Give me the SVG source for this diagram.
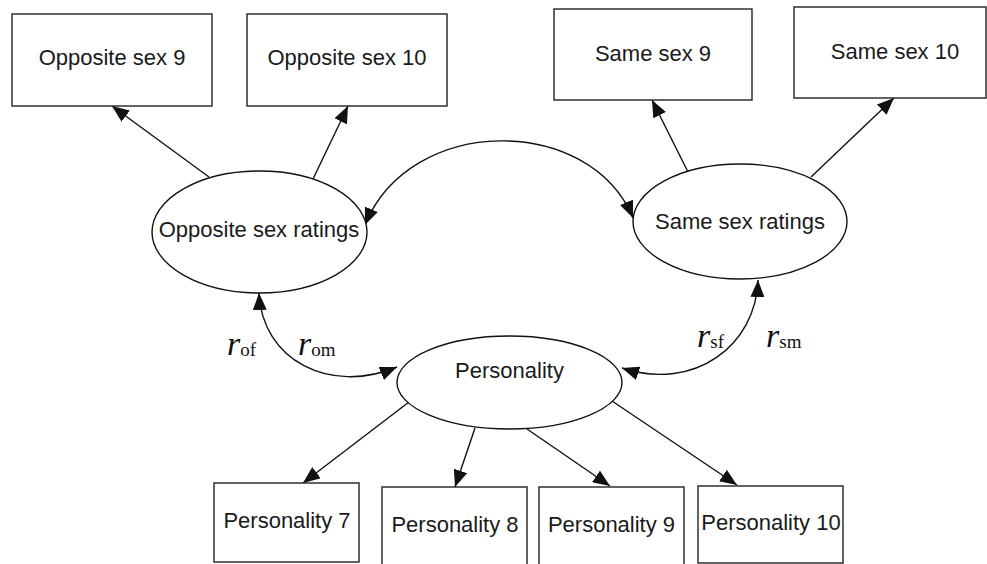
<svg xmlns="http://www.w3.org/2000/svg" width="987" height="564" viewBox="0 0 987 564">
<defs>
<marker id="ah" viewBox="0 0 17 14" refX="17" refY="7" markerWidth="17" markerHeight="14" markerUnits="userSpaceOnUse" orient="auto-start-reverse">
<path d="M0,0 L17,7 L0,14 Z" fill="#111"/>
</marker>
<style>
.box{fill:#fff;stroke:#222;stroke-width:1.4}
.ell{fill:#fff;stroke:#111;stroke-width:1.4}
.lbl{font-family:"Liberation Sans",Arial,sans-serif;font-size:22px;fill:#1a1a1a;text-anchor:middle}
.c{fill:none;stroke:#111;stroke-width:1.4}
.r{font-family:"Liberation Serif","Times New Roman",serif;font-style:italic;font-size:34px;fill:#111}
.sub{font-family:"Liberation Serif","Times New Roman",serif;font-style:normal;font-size:19px}
</style>
</defs>
<rect width="987" height="564" fill="#fff"/>
<g id="connectors">
<line class="c" x1="209" y1="177" x2="112" y2="106" marker-end="url(#ah)"/>
<line class="c" x1="313" y1="179" x2="348" y2="106" marker-end="url(#ah)"/>
<line class="c" x1="688" y1="172" x2="652" y2="100" marker-end="url(#ah)"/>
<line class="c" x1="811" y1="177" x2="894" y2="98" marker-end="url(#ah)"/>
<path class="c" d="M365,225 C410,114 590,114 633,218" marker-start="url(#ah)" marker-end="url(#ah)"/>
<path class="c" d="M259,293 C262,360 330,395 397,367" marker-start="url(#ah)" marker-end="url(#ah)"/>
<path class="c" d="M758,280 C756,345 695,392 622,368" marker-start="url(#ah)" marker-end="url(#ah)"/>
<line class="c" x1="409" y1="402" x2="303" y2="483" marker-end="url(#ah)"/>
<line class="c" x1="475" y1="428" x2="455" y2="487" marker-end="url(#ah)"/>
<line class="c" x1="527" y1="429" x2="610" y2="486" marker-end="url(#ah)"/>
<line class="c" x1="609" y1="399" x2="737" y2="485" marker-end="url(#ah)"/>
</g>
<g id="opp9"><rect class="box" x="12" y="14" width="200" height="92"/><text class="lbl" x="112" y="65">Opposite sex 9</text></g>
<g id="opp10"><rect class="box" x="247" y="14" width="200" height="92"/><text class="lbl" x="347" y="65">Opposite sex 10</text></g>
<g id="same9"><rect class="box" x="554" y="9" width="198" height="91"/><text class="lbl" x="653" y="61">Same sex 9</text></g>
<g id="same10"><rect class="box" x="794" y="7" width="192" height="91"/><text class="lbl" x="895" y="59">Same sex 10</text></g>
<g id="oppRatings"><ellipse class="ell" cx="259.5" cy="232" rx="107.5" ry="61"/><text class="lbl" x="259" y="237">Opposite sex ratings</text></g>
<g id="sameRatings"><ellipse class="ell" cx="740" cy="221.5" rx="107" ry="57.5"/><text class="lbl" x="740" y="229">Same sex ratings</text></g>
<g id="personality"><ellipse class="ell" cx="509.5" cy="382.5" rx="112.5" ry="46.5"/><text class="lbl" x="509.5" y="378">Personality</text></g>
<g id="p7"><rect class="box" x="214" y="483" width="145" height="79"/><text class="lbl" x="287" y="528">Personality 7</text></g>
<g id="p8"><rect class="box" x="382" y="487" width="145" height="90"/><text class="lbl" x="455" y="532">Personality 8</text></g>
<g id="p9"><rect class="box" x="539" y="487" width="145" height="90"/><text class="lbl" x="611.5" y="532">Personality 9</text></g>
<g id="p10"><rect class="box" x="698" y="486" width="145" height="77"/><text class="lbl" x="771" y="530">Personality 10</text></g>
<g id="labels">
<text class="r" x="227" y="355">r<tspan class="sub" dy="1">of</tspan></text>
<text class="r" x="298" y="355">r<tspan class="sub" dy="1">om</tspan></text>
<text class="r" x="697" y="347">r<tspan class="sub" dy="1">sf</tspan></text>
<text class="r" x="766" y="347">r<tspan class="sub" dy="1">sm</tspan></text>
</g>
</svg>
